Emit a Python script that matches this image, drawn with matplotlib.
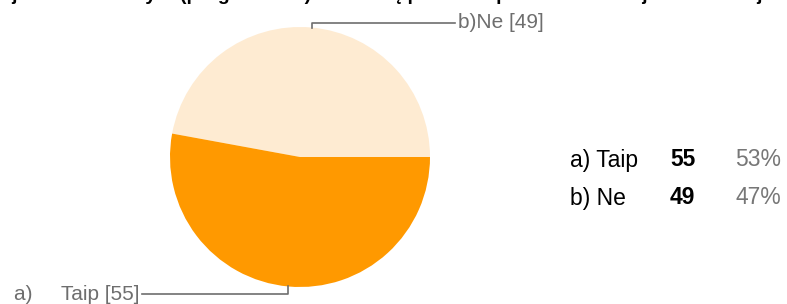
import numpy as np
import matplotlib.pyplot as plt

# --- DATOS ---
categorias = ['b)Ne', 'a)     Taip']
leyenda = ['a) Taip', 'b) Ne']
valores = [49, 55]              # orden del pastel: Ne primero (arriba)
valores_leyenda = [55, 49]
porcentajes = ['53%', '47%']
colores = ['#FEEBD2', '#FF9900']
titulo = 'Ar jūs žinote kas yra (programinės) užduočių paieškos priemonės ir ar jomis naudojatės'

W, H = 787, 304
fig = plt.figure(figsize=(W / 100, H / 100), dpi=100)
ax = fig.add_axes([0, 0, 1, 1])
plt.rcParams['font.family'] = ['Liberation Sans', 'DejaVu Sans']

# --- PASTEL ---
cx, cy, r = 300, H - 157, 130
wedges, _ = ax.pie(valores, colors=colores, startangle=0, counterclock=True,
                   center=(cx, cy), radius=r, frame=True)
ax.set_xlim(0, W)
ax.set_ylim(0, H)
ax.set_aspect('equal')
ax.axis('off')

# líneas guía y etiquetas
gris = '#6e6e6e'
for w, cat, val in zip(wedges, categorias, valores):
    ang = np.deg2rad((w.theta1 + w.theta2) / 2)
    x0 = cx + r * np.cos(ang)
    y0 = cy + r * np.sin(ang)
    if np.sin(ang) > 0:
        y1 = y0 + 5
        x1 = 455
        ax.plot([x0, x0, x1], [y0, y1, y1], color=gris, lw=1.2)
        ax.text(x1 + 3, y1, f'{cat} [{val}]', color=gris, fontsize=15,
                ha='left', va='center')
    else:
        y1 = y0 - 8
        x1 = 142
        ax.plot([x0, x0, x1], [y0, y1, y1], color=gris, lw=1.2)
        ax.text(x1 - 3, y1, f'{cat} [{val}]', color=gris, fontsize=15,
                ha='right', va='center')

# --- LEYENDA ---
for i, (lab, v, p) in enumerate(zip(leyenda, valores_leyenda, porcentajes)):
    y = H - 160 - i * 38
    ax.text(570, y, lab, fontsize=16.5, color='black', ha='left', va='center')
    ax.text(670, y, str(v), fontsize=16.5, color='black', weight='bold',
            ha='left', va='center')
    ax.text(735, y, p, fontsize=16.5, color='#777777', ha='left', va='center')

# título cortado en la parte superior
ax.text(W / 2, H + 4, titulo, fontsize=14, weight='bold', color='black',
        ha='center', va='center', clip_on=False)

fig.savefig('out.png', dpi=100)
